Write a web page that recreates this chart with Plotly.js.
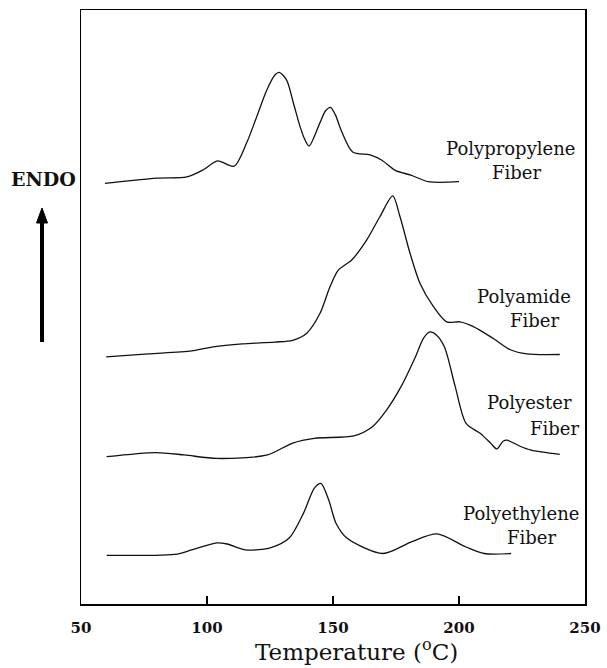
<!DOCTYPE html>
<html>
<head>
<meta charset="utf-8">
<script src="https://cdn.plot.ly/plotly-3.0.1.min.js"></script>
<style>
  html, body { margin: 0; padding: 0; background: #ffffff; }
  #chart { width: 607px; height: 668px; }
</style>
</head>
<body>
<div id="chart"></div>
<script>
// DSC thermograms of four fibres, stacked (arbitrary heat-flow units, endo up)
const ppTemp   = [59.5, 80, 92, 98.5, 104.2, 110.7, 115.7, 119.7, 123.7, 127, 128.7, 131.6, 134.3, 136.9, 138.5, 140.5, 144.8, 147, 149, 151, 153.2, 157.8, 164.7, 169.4, 174.7, 180.9, 187.8, 200];
const ppSignal = [70.8, 71.7, 71.9, 73.1, 74.6, 73.7, 77.6, 82.0, 86.5, 89.1, 89.5, 88.2, 84.3, 80.4, 78.5, 77.1, 81.0, 83.0, 83.6, 82.3, 79.8, 76.1, 75.6, 74.7, 73.0, 72.2, 71.1, 71.1];

const paTemp   = [60, 76.7, 93.9, 102.5, 114, 126.9, 134, 139.6, 144.8, 148.8, 152.1, 157.4, 163.4, 168.6, 173.7, 176.6, 180.6, 184.5, 189.8, 195.1, 200.4, 205.7, 213.6, 220.4, 226.9, 240];
const paSignal = [41.6, 42.1, 42.6, 43.3, 43.8, 44.1, 44.4, 45.6, 48.9, 53.4, 56.2, 57.9, 61.3, 65.2, 68.7, 65.2, 59.0, 54.0, 50.1, 47.5, 47.5, 46.7, 44.7, 42.8, 42.1, 42.0];

const pesTemp   = [60.2, 79.6, 91, 103.9, 124, 134, 142.6, 158.3, 165.5, 171.3, 177, 182.7, 186, 188.5, 191, 194.2, 198.5, 202.8, 208.5, 212.5, 215, 217.5, 219, 224, 228.6, 240];
const pesSignal = [24.8, 25.5, 25.1, 24.5, 25.1, 27.1, 27.9, 28.3, 29.8, 32.7, 36.6, 41.6, 44.8, 45.8, 45.3, 43.3, 36.6, 30.4, 28.7, 27.1, 26.1, 27.4, 27.6, 26.6, 25.9, 25.2];

const peTemp   = [60.2, 88.2, 93.9, 103.9, 108, 115.4, 125.4, 132.6, 138.3, 142.6, 145.2, 148.3, 151.2, 155.5, 169.8, 181.3, 191.3, 202.8, 210, 220.7];
const peSignal = [8.2, 8.4, 9.1, 10.3, 10.1, 9.1, 9.5, 11.1, 15.3, 19.5, 20.3, 17.5, 13.6, 11.1, 8.5, 10.5, 11.8, 9.6, 8.5, 8.5];

const tickValues = [50, 100, 150, 200, 250];
const tickLabels = ['50', '100', '150', '200', '250'];

const curveNames = ['Polypropylene Fiber', 'Polyamide Fiber', 'Polyester Fiber', 'Polyethylene Fiber'];
const curves = [[ppTemp, ppSignal], [paTemp, paSignal], [pesTemp, pesSignal], [peTemp, peSignal]];

const traces = curves.map((c, i) => ({
  x: c[0],
  y: c[1],
  name: curveNames[i],
  type: 'scatter',
  mode: 'lines',
  line: { color: '#111111', width: 1.3, shape: 'spline', smoothing: 0.8 },
  hoverinfo: 'skip'
}));

// plot box geometry in pixels (for placing labels in paper coordinates)
const L = 81, R = 585, T = 10, B = 604;
const px = v => (v - L) / (R - L);
const py = v => (B - v) / (B - T);

const serif = 'DejaVu Serif, Liberation Serif, serif';

function label(text, x, y, size, weight) {
  return {
    text: text, xref: 'paper', yref: 'paper', x: px(x), y: py(y),
    xanchor: 'center', yanchor: 'middle', showarrow: false,
    font: { family: serif, size: size, color: '#111111', weight: weight || 'normal' }
  };
}

const annotations = [
  label('Polypropylene', 510, 148, 18),
  label('Fiber', 516, 172, 18),
  label('Polyamide', 524, 296, 18),
  label('Fiber', 534, 320, 18),
  label('Polyester', 529, 403, 18),
  label('Fiber', 554, 428, 18),
  label('Polyethylene', 521, 513, 18),
  label('Fiber', 531, 537, 18),
  label('ENDO', 43, 179, 19, 'bold'),
  label('Temperature (<sup>o</sup>C)', 356, 650, 23)
];

// upward "ENDO" arrow: thick shaft plus a filled head
const shapes = [
  { type: 'line', xref: 'paper', yref: 'paper',
    x0: px(42), x1: px(42), y0: py(342), y1: py(220),
    line: { color: '#000000', width: 4 } },
  { type: 'path', xref: 'paper', yref: 'paper',
    path: 'M ' + px(42) + ' ' + py(208) + ' L ' + px(36.5) + ' ' + py(223) +
          ' L ' + px(47.5) + ' ' + py(223) + ' Z',
    fillcolor: '#000000', line: { color: '#000000', width: 1 } }
];

const layout = {
  width: 607,
  height: 668,
  margin: { l: L, r: 607 - R, t: T, b: 668 - B },
  paper_bgcolor: '#ffffff',
  plot_bgcolor: '#ffffff',
  showlegend: false,
  xaxis: {
    range: [50, 250],
    tickvals: tickValues,
    ticktext: tickLabels,
    ticks: 'inside',
    ticklen: 8,
    tickwidth: 1.2,
    tickcolor: '#000000',
    ticklabelstandoff: 9,
    showline: true,
    mirror: true,
    linecolor: '#000000',
    linewidth: 1.5,
    showgrid: false,
    zeroline: false,
    tickfont: { family: serif, size: 15, color: '#111111', weight: 'bold' }
  },
  yaxis: {
    range: [0, 100],
    showticklabels: false,
    ticks: '',
    showline: true,
    mirror: true,
    linecolor: '#000000',
    linewidth: 1.5,
    showgrid: false,
    zeroline: false
  },
  annotations: annotations,
  shapes: shapes
};

Plotly.newPlot('chart', traces, layout, { displayModeBar: false, staticPlot: true });
</script>
</body>
</html>
